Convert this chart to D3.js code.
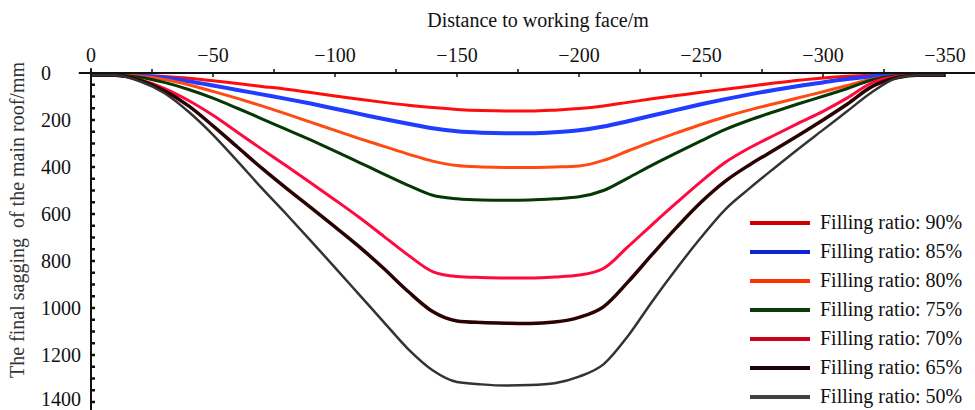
<!DOCTYPE html>
<html>
<head>
<meta charset="utf-8">
<style>
  body { margin: 0; background: #ffffff; }
  text { font-family: "Liberation Serif", "Times New Roman", serif; fill: #111; }
</style>
</head>
<body>
<div id="chart"></div>
<script src="https://cdn.jsdelivr.net/npm/d3@7"></script>
<script>
// distance to working face (m)
var distance = [0, -10, -20, -30, -40, -50, -60, -70, -80, -90, -100, -110, -120, -130, -140, -150, -160, -170,
  -180, -190, -200, -210, -220, -230, -240, -250, -260, -270, -280, -290, -300, -310, -320, -330, -340, -350];

var seriesNames = ["Filling ratio: 90%", "Filling ratio: 85%", "Filling ratio: 80%", "Filling ratio: 75%",
  "Filling ratio: 70%", "Filling ratio: 65%", "Filling ratio: 50%"];

// final sagging (mm), one array per filling ratio
var sag90 = [8, 8, 10, 15, 22, 33, 45, 57, 69, 83, 98, 112, 125, 137, 147, 155, 160, 162,
  162, 158, 151, 140, 125, 110, 96, 82, 69, 56, 43, 31, 21, 14, 10, 8, 8, 8];
var sag85 = [8, 8, 12, 20, 35, 53, 72, 91, 110, 130, 152, 174, 196, 216, 235, 248, 254, 256,
  256, 252, 244, 228, 205, 181, 157, 133, 111, 91, 72, 55, 40, 26, 15, 9, 8, 8];
var sag80 = [8, 9, 14, 28, 50, 78, 108, 140, 174, 209, 244, 279, 312, 345, 375, 394, 400, 402,
  402, 400, 396, 372, 332, 292, 255, 219, 186, 157, 131, 105, 80, 53, 27, 12, 8, 8];
var sag75 = [8, 9, 18, 40, 70, 107, 150, 195, 240, 285, 332, 381, 430, 478, 520, 535, 540, 541,
  540, 535, 527, 500, 447, 392, 340, 289, 240, 200, 165, 131, 99, 66, 30, 12, 8, 8];
var sag70 = [8, 10, 28, 65, 117, 180, 252, 324, 395, 467, 540, 615, 695, 775, 845, 866, 870, 872,
  872, 868, 860, 832, 740, 645, 552, 462, 380, 318, 265, 213, 163, 106, 42, 15, 8, 8];
var sag65 = [8, 10, 30, 75, 140, 225, 315, 405, 490, 572, 655, 740, 832, 930, 1015, 1055, 1062, 1065,
  1066, 1060, 1040, 995, 890, 772, 657, 550, 460, 390, 328, 265, 200, 132, 58, 20, 8, 8];
var sag50 = [8, 10, 35, 85, 165, 263, 375, 490, 600, 713, 828, 944, 1060, 1175, 1265, 1315, 1325, 1330,
  1328, 1320, 1292, 1240, 1120, 972, 832, 700, 580, 490, 405, 322, 242, 162, 82, 22, 8, 8];

var xTicks = [0, -50, -100, -150, -200, -250, -300, -350];
var yTicks = [0, 200, 400, 600, 800, 1000, 1200, 1400];

var allSeries = [sag90, sag85, sag80, sag75, sag70, sag65, sag50];
var lineColors = ["#ff0d0d", "#1f3cff", "#ff4a12", "#053805", "#ff0a40", "#2a0202", "#333333"];
var legendColors = ["#d00000", "#0a24d6", "#ff3300", "#0b3a0b", "#cc0018", "#1e0505", "#404040"];
var lineWidths = [3, 4, 3, 3, 3, 3.5, 2.5];

var width = 975, height = 410;

var svg = d3.select("#chart").append("svg")
  .attr("width", width)
  .attr("height", height);

var x = d3.scaleLinear().domain([0, -350]).range([91, 945]);
var y = d3.scaleLinear().domain([0, 1400]).range([73, 402]);

// curves
var line = d3.line()
  .x(function(d) { return x(d[0]); })
  .y(function(d) { return y(d[1]); })
  .curve(d3.curveMonotoneX);

allSeries.forEach(function(vals, i) {
  svg.append("path")
    .datum(distance.map(function(d, j) { return [d, vals[j]]; }))
    .attr("fill", "none")
    .attr("stroke", lineColors[i])
    .attr("stroke-width", lineWidths[i])
    .attr("stroke-linejoin", "round")
    .attr("d", line);
});

// x axis (top)
var xg = svg.append("g");
xg.append("line")
  .attr("x1", x(5)).attr("x2", x(-365))
  .attr("y1", y(0)).attr("y2", y(0))
  .attr("stroke", "#111").attr("stroke-width", 2);
xg.selectAll(".xmaj").data(xTicks).enter().append("line")
  .attr("x1", function(d) { return x(d); }).attr("x2", function(d) { return x(d); })
  .attr("y1", y(0)).attr("y2", y(0) + 4)
  .attr("stroke", "#111").attr("stroke-width", 1.5);
xg.selectAll(".xmin").data(d3.range(-25, -350, -50)).enter().append("line")
  .attr("x1", function(d) { return x(d); }).attr("x2", function(d) { return x(d); })
  .attr("y1", y(0)).attr("y2", y(0) - 4)
  .attr("stroke", "#111").attr("stroke-width", 1.5);
xg.selectAll(".xlab").data(xTicks).enter().append("text")
  .attr("x", function(d) { return x(d); })
  .attr("y", 62)
  .attr("text-anchor", "middle")
  .style("font-size", "20px")
  .text(function(d) { return d === 0 ? "0" : "\u2212" + Math.abs(d); });

svg.append("text")
  .attr("x", 538).attr("y", 27)
  .attr("text-anchor", "middle")
  .style("font-size", "20px")
  .text("Distance to working face/m");

// y axis (left)
var yg = svg.append("g");
yg.append("line")
  .attr("x1", x(0)).attr("x2", x(0))
  .attr("y1", y(-20)).attr("y2", y(1440))
  .attr("stroke", "#111").attr("stroke-width", 2);
yg.selectAll(".ytick").data(d3.range(50, 1450, 50)).enter().append("line")
  .attr("x1", x(0)).attr("x2", x(0) + 4)
  .attr("y1", function(d) { return y(d); }).attr("y2", function(d) { return y(d); })
  .attr("stroke", "#111").attr("stroke-width", 2.5);
yg.selectAll(".ylab").data(yTicks).enter().append("text")
  .attr("x", 41)
  .attr("y", function(d) { return Math.min(y(d), 399); })
  .attr("dy", "0.33em")
  .style("font-size", "20px")
  .text(function(d) { return d; });

svg.append("text")
  .attr("transform", "translate(24," + 220 + ") rotate(-90)")
  .attr("text-anchor", "middle")
  .style("font-size", "20px")
  .style("fill", "#333")
  .style("white-space", "pre")
  .text("The final sagging  of the main roof/mm");

// legend
var ly = d3.scalePoint().domain(seriesNames).range([223, 397]);
var legend = svg.selectAll(".legend").data(seriesNames).enter().append("g");
legend.append("line")
  .attr("x1", 750).attr("x2", 810)
  .attr("y1", function(d) { return ly(d); }).attr("y2", function(d) { return ly(d); })
  .attr("stroke", function(d, i) { return legendColors[i]; })
  .attr("stroke-width", 4);
legend.append("text")
  .attr("x", 820)
  .attr("y", function(d) { return ly(d); })
  .attr("dy", "0.3em")
  .style("font-size", "20px")
  .text(function(d) { return d; });
</script>
</body>
</html>
